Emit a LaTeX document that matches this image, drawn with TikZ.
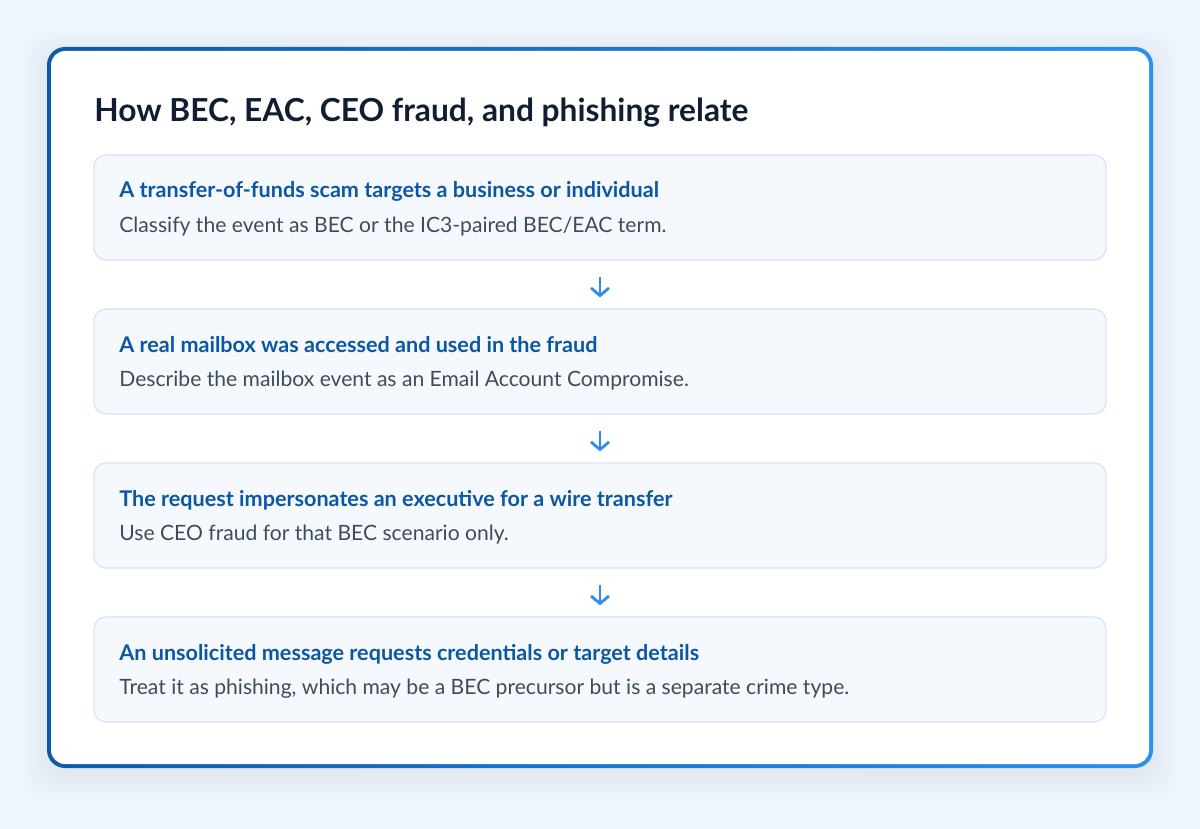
\documentclass[tikz,border=0pt]{standalone}
\usepackage{fontspec}
\setmainfont{Lato}
\usetikzlibrary{arrows.meta}
\definecolor{bgc}{HTML}{EEF5FC}
\definecolor{framedark}{HTML}{0E5AA8}
\definecolor{framelight}{HTML}{2B90F0}
\definecolor{titlec}{HTML}{0F1E33}
\definecolor{headc}{HTML}{0B57A4}
\definecolor{bodyc}{HTML}{3F4B5C}
\definecolor{boxfill}{HTML}{F5F9FE}
\definecolor{boxline}{HTML}{D3E3F6}
\definecolor{arrowc}{HTML}{2C8DEA}
\definecolor{shadowc}{HTML}{9CC4EE}
\begin{document}
\begin{tikzpicture}[x=0.5pt,y=-0.5pt,
  stepbox/.style={draw=boxline,line width=0.6pt,fill=boxfill,rounded corners=6pt,
    minimum width=506pt,minimum height=52.5pt,inner sep=0pt},
  headtxt/.style={anchor=base west,inner sep=0pt,text=headc,font=\fontsize{10.8pt}{12pt}\selectfont\bfseries},
  bodytxt/.style={anchor=base west,inner sep=0pt,text=bodyc,font=\fontsize{10.55pt}{12pt}\selectfont},
  flow/.style={draw=arrowc,line width=1.4pt,-{Straight Barb[length=3.8pt,width=9pt,line width=1.4pt]},shorten <=8pt,shorten >=5.5pt}]
\useasboundingbox (0,0) rectangle (1200,829);
\fill[bgc] (0,0) rectangle (1200,829);
% soft shadow
\foreach \i in {2,4,...,24}{
  \fill[shadowc,opacity=0.01,rounded corners=14pt] (47-\i,47-\i+8) rectangle (1153+\i,768+\i+8);
}
\shade[left color=framedark,right color=framelight,rounded corners=9pt] (47,47) rectangle (1153,768);
\fill[white,rounded corners=7pt] (51,51) rectangle (1149,764);
\node[anchor=base west,inner sep=0pt,text=titlec,font=\fontsize{15.85pt}{18pt}\selectfont\bfseries] (title) at (94,122) {How BEC, EAC, CEO fraud, and phishing relate};
\node[stepbox] (b1) at (600,207.5) {};
\node[stepbox] (b2) at (600,361.5) {};
\node[stepbox] (b3) at (600,515.5) {};
\node[stepbox] (b4) at (600,669.5) {};
\node[headtxt] (h1) at (119,198) {A transfer-of-funds scam targets a business or individual};
\node[bodytxt] (t1) at (119,232) {Classify the event as BEC or the IC3-paired BEC/EAC term.};
\node[headtxt] (h2) at (119,352) {A real mailbox was accessed and used in the fraud};
\node[bodytxt] (t2) at (119,386) {Describe the mailbox event as an Email Account Compromise.};
\node[headtxt] (h3) at (119,506) {The request impersonates an executive for a wire transfer};
\node[bodytxt] (t3) at (119,540) {Use CEO fraud for that BEC scenario only.};
\node[headtxt] (h4) at (119,660) {An unsolicited message requests credentials or target details};
\node[bodytxt] (t4) at (119,694) {Treat it as phishing, which may be a BEC precursor but is a separate crime type.};
\draw[flow] (b1.south) -- (b2.north);
\draw[flow] (b2.south) -- (b3.north);
\draw[flow] (b3.south) -- (b4.north);
\end{tikzpicture}
\end{document}
